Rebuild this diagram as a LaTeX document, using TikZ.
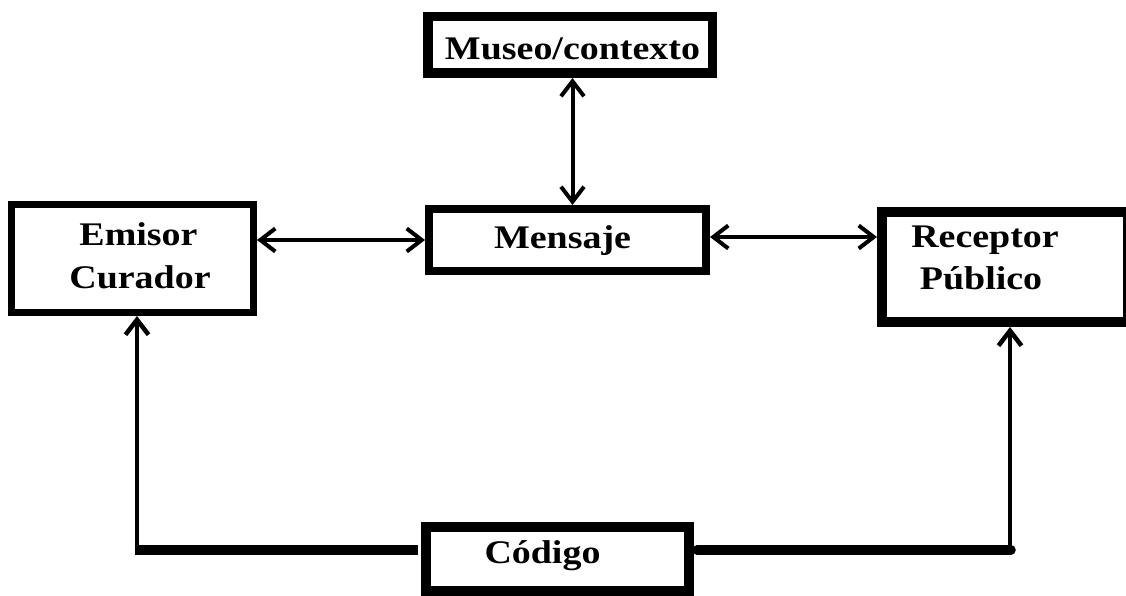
\documentclass[tikz,border=0pt]{standalone}
\usepackage{fontspec}
\setmainfont{Liberation Serif}[FakeStretch=1.15]
\usetikzlibrary{arrows.meta}
\tikzset{
  box/.style={draw, inner sep=0pt, line width=#1, outer sep=#1/2},
  lab/.style={font=\fontsize{33}{38}\selectfont\bfseries, inner sep=0pt, anchor=base},
  arr/.style={line width=4pt, {Straight Barb[length=15pt,width=23pt]}-{Straight Barb[length=15pt,width=23pt]}},
  uparr/.style={line width=4.5pt, -{Straight Barb[length=15pt,width=23pt]}},
  thickline/.style={line width=9.5pt}
}
\begin{document}
\begin{tikzpicture}[x=1pt,y=-1pt]
\clip (0,0) rectangle (1126,596);
\fill[white] (0,0) rectangle (1126,596);
% boxes
\node[box=9.5pt, minimum width=284.5pt, minimum height=56.5pt] (museo) at (570,45) {};
\node[box=7pt, minimum width=242pt, minimum height=108pt] (emisor) at (132.5,258.5) {};
\node[box=8pt, minimum width=277pt, minimum height=62pt] (mensaje) at (567.5,240) {};
\node[box=10pt, minimum width=246pt, minimum height=110pt] (receptor) at (1005,267) {};
\node[box=10pt, minimum width=263pt, minimum height=64pt] (codigo) at (557.5,559) {};
% labels
\node[lab] (tmuseo) at (572.5,60) {Museo/contexto};
\node[lab] (temisor) at (138.5,245) {Emisor};
\node[lab] (tcurador) at (140,288) {Curador};
\node[lab] (tmensaje) at (562.5,248) {Mensaje};
\node[lab] (treceptor) at (985,247) {Receptor};
\node[lab] (tpublico) at (981,289) {Público};
\node[lab] (tcodigo) at (542.5,563) {Código};
% connectors
\draw[arr] ([xshift=2.5pt]museo.south) -- ([xshift=5pt]mensaje.north);
\draw[arr] (mensaje.west -| emisor.east) -- (mensaje.west);
\draw[arr] ([yshift=3pt]mensaje.east) -- ([yshift=3pt]mensaje.east -| receptor.west);
\coordinate (cL) at (137,550);
\coordinate (cR) at (1010,550);
\draw[thickline] ([xshift=-2.5pt]cL) -- ([xshift=-3pt]cL -| codigo.west);
\draw[thickline, line cap=round] ([xshift=3pt]cR -| codigo.east) -- ([xshift=1pt]cR);
\draw[uparr] ([yshift=4pt]cL) -- (cL |- emisor.south);
\draw[uparr] (cR) -- (cR |- receptor.south);
\end{tikzpicture}
\end{document}
